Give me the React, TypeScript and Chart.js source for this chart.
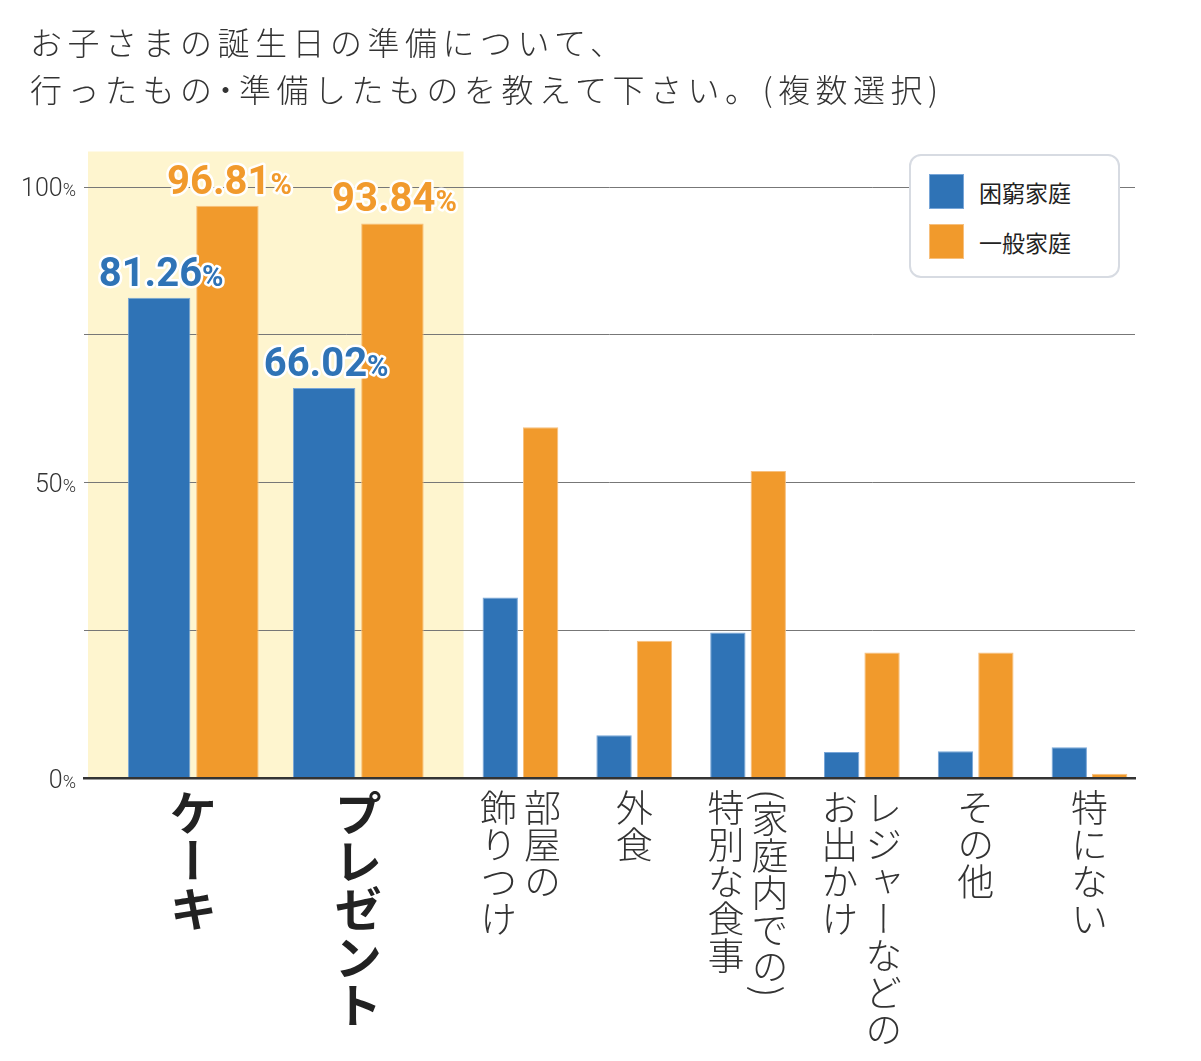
import { useEffect, useRef, useState } from 'react';
import { Chart, registerables, CategoryScale } from 'chart.js';

Chart.register(...registerables);

// ---- data ----
const categories: (string | string[])[] = [
  'ケーキ',
  'プレゼント',
  ['部屋の', '飾りつけ'],
  '外食',
  ['(家庭内での)', '特別な食事'],
  ['レジャーなどの', 'お出かけ'],
  'その他',
  '特にない',
];
const seriesNames = ['困窮家庭', '一般家庭'];
const poorValues = [81.26, 66.02, 30.6, 7.3, 24.7, 4.5, 4.6, 5.3];
const generalValues = [96.81, 93.84, 59.4, 23.3, 52.0, 21.3, 21.3, 0.8];
const highlightedCount = 2; // leading categories shown on the highlighted band
const yTickValues = [0, 25, 50, 75, 100];
const yLabelledTicks = [0, 50, 100];

// ---- styling ----
const COLORS = {
  poor: '#2f73b6',
  poorEdge: '#78a6d8',
  general: '#f19a2c',
  generalEdge: '#f7c07e',
  band: '#fef5cf',
  grid: '#777777',
  axis: '#333333',
  text: '#333333',
};

// Slot widths along the x axis, in units of a regular category slot.
const SLOTS = {
  lead: 0.035, // gap between the y axis and the highlighted band
  bandPad: 0.2, // padding inside the band on either side
  highlighted: 1.45, // slot width of a highlighted category
  regular: 1, // slot width of the remaining categories
  tail: -0.1, // the last slot runs slightly past the axis end
};
const BAND_TOP = 106; // the band reaches a little above the 100% line

const CJK = '"Noto Sans CJK JP", "Noto Sans CJK SC", sans-serif';

// Category scale whose slots may have different widths.
class SlotCategoryScale extends CategoryScale {
  static id = 'slotCategory';

  unitPx(): number {
    const n = this.getLabels().length;
    const total =
      SLOTS.lead +
      2 * SLOTS.bandPad +
      highlightedCount * SLOTS.highlighted +
      (n - highlightedCount) * SLOTS.regular +
      SLOTS.tail;
    return this.width / total;
  }

  slotStart(i: number): number {
    let u = SLOTS.lead + SLOTS.bandPad;
    for (let k = 0; k < i; k++) u += k < highlightedCount ? SLOTS.highlighted : SLOTS.regular;
    if (i >= highlightedCount) u += SLOTS.bandPad;
    return u;
  }

  getPixelForValue(value: any): number {
    if (typeof value !== 'number') value = this.parse(value);
    if (value === null || isNaN(value)) return NaN;
    const i = Math.round(value);
    const w = i < highlightedCount ? SLOTS.highlighted : SLOTS.regular;
    return this.left + (this.slotStart(i) + w / 2) * this.unitPx();
  }

  bandEdges(): [number, number] {
    const u = this.unitPx();
    return [this.left + SLOTS.lead * u, this.left + this.slotStart(highlightedCount) * u];
  }
}
Chart.register(SlotCategoryScale);

const onlyWhere = (values: number[], highlighted: boolean) =>
  values.map((v, i) => ((i < highlightedCount) === highlighted ? v : null));

const bandPlugin = {
  id: 'highlightBand',
  beforeDraw(chart: any) {
    const xs = chart.scales.x as SlotCategoryScale;
    const ys = chart.scales.y;
    const [x0, x1] = xs.bandEdges();
    const top = ys.getPixelForValue(BAND_TOP);
    const ctx = chart.ctx;
    ctx.save();
    ctx.fillStyle = COLORS.band;
    ctx.fillRect(x0, top, x1 - x0, chart.chartArea.bottom - top);
    ctx.restore();
  },
};

const yLabelPlugin = {
  id: 'percentTicks',
  afterDraw(chart: any) {
    const ctx = chart.ctx;
    const ys = chart.scales.y;
    const right = chart.chartArea.left - 8;
    ctx.save();
    ctx.fillStyle = COLORS.text;
    ctx.textBaseline = 'alphabetic';
    ctx.textAlign = 'right';
    for (const v of yLabelledTicks) {
      const y = ys.getPixelForValue(v) + 9;
      ctx.font = '300 18px Roboto';
      const wPct = ctx.measureText('%').width;
      ctx.fillText('%', right, y);
      ctx.font = '300 25px Roboto';
      ctx.fillText(String(v), right - wPct, y);
    }
    ctx.restore();
  },
};

const valueLabelPlugin = {
  id: 'valueLabels',
  afterDatasetsDraw(chart: any) {
    const ctx = chart.ctx;
    const groups: [number, number[], string][] = [
      [0, poorValues, COLORS.poor],
      [1, generalValues, COLORS.general],
    ];
    ctx.save();
    ctx.textBaseline = 'alphabetic';
    ctx.textAlign = 'left';
    ctx.lineJoin = 'round';
    for (const [di, values, color] of groups) {
      const meta = chart.getDatasetMeta(di);
      meta.data.forEach((bar: any, i: number) => {
        if (i >= highlightedCount) return;
        const num = values[i].toFixed(2);
        ctx.font = '700 40px Roboto';
        const wNum = ctx.measureText(num).width;
        ctx.font = '700 29px Roboto';
        const wPct = ctx.measureText('%').width;
        const x0 = bar.x - (wNum + wPct) / 2 + 2;
        const base = bar.y - 12;
        ctx.strokeStyle = '#ffffff';
        ctx.lineWidth = 5;
        ctx.fillStyle = color;
        ctx.font = '700 40px Roboto';
        ctx.strokeText(num, x0, base);
        ctx.font = '700 29px Roboto';
        ctx.strokeText('%', x0 + wNum, base);
        ctx.font = '700 40px Roboto';
        ctx.fillText(num, x0, base);
        ctx.font = '700 29px Roboto';
        ctx.fillText('%', x0 + wNum, base);
      });
    }
    ctx.restore();
  },
};

const W = 1185;
const H = 1045;

export default function App() {
  const canvasRef = useRef<HTMLCanvasElement | null>(null);
  const [xLabels, setXLabels] = useState<{ xs: number[]; top: number } | null>(null);

  useEffect(() => {
    if (!canvasRef.current) return;
    const big = { categoryPercentage: 1.2, barPercentage: 0.915 };
    const small = { categoryPercentage: 0.71, barPercentage: 0.875 };
    const chart = new Chart(canvasRef.current, {
      type: 'bar',
      data: {
        labels: categories as any,
        datasets: [
          {
            label: seriesNames[0],
            data: onlyWhere(poorValues, true),
            backgroundColor: COLORS.poor,
            borderColor: COLORS.poorEdge,
            ...big,
          },
          {
            label: seriesNames[1],
            data: onlyWhere(generalValues, true),
            backgroundColor: COLORS.general,
            borderColor: COLORS.generalEdge,
            ...big,
          },
          {
            label: seriesNames[0],
            data: onlyWhere(poorValues, false),
            backgroundColor: COLORS.poor,
            borderColor: COLORS.poorEdge,
            ...small,
          },
          {
            label: seriesNames[1],
            data: onlyWhere(generalValues, false),
            backgroundColor: COLORS.general,
            borderColor: COLORS.generalEdge,
            ...small,
          },
        ] as any,
      },
      options: {
        responsive: false,
        animation: false,
        events: [],
        datasets: { bar: { skipNull: true, borderWidth: 1 } as any },
        layout: { padding: { left: 76, right: 58, top: 179, bottom: 274.5 } },
        plugins: { legend: { display: false }, tooltip: { enabled: false } },
        scales: {
          x: {
            type: 'slotCategory' as any,
            ticks: { display: false },
            grid: { display: false, drawTicks: false },
            border: { display: true, color: COLORS.axis, width: 2.5, z: 1 },
          },
          y: {
            min: 0,
            max: 100,
            afterBuildTicks: (scale: any) => {
              scale.ticks = yTickValues.map((v) => ({ value: v }));
            },
            ticks: { display: false },
            grid: {
              drawTicks: false,
              lineWidth: 1,
              color: (c: any) => (c.tick && c.tick.value === 0 ? 'rgba(0,0,0,0)' : COLORS.grid),
            },
            border: { display: false },
          },
        },
      },
      plugins: [bandPlugin, yLabelPlugin, valueLabelPlugin],
    });
    const xs = chart.scales.x;
    setXLabels({
      xs: categories.map((_, i) => xs.getPixelForValue(i)),
      top: chart.chartArea.bottom + 10,
    });
    return () => chart.destroy();
  }, []);

  const narrowDot = <span style={{ margin: '0 -0.25em' }}>・</span>;

  return (
    <div style={{ position: 'relative', width: W, height: H, overflow: 'hidden', background: '#fff' }}>
      <canvas ref={canvasRef} width={W} height={H} style={{ position: 'absolute', left: 0, top: 0 }} />

      <div
        style={{
          position: 'absolute',
          left: 22,
          top: 10,
          fontFamily: CJK,
          fontWeight: 300,
          fontSize: 32,
          letterSpacing: '5.5px',
          lineHeight: '47px',
          color: COLORS.text,
          whiteSpace: 'nowrap',
        }}
      >
        <div>お子さまの誕生日の準備について、</div>
        <div>
          行ったもの{narrowDot}準備したものを教えて下さい。(複数選択)
        </div>
      </div>

      <div
        style={{
          position: 'absolute',
          left: 901,
          top: 146,
          width: 211,
          height: 124,
          boxSizing: 'border-box',
          border: '2px solid #d7dbe2',
          borderRadius: 12,
          background: '#fff',
        }}
      >
        {seriesNames.map((name, i) => (
          <div
            key={name}
            style={{
              position: 'absolute',
              left: 18,
              top: 18 + i * 50,
              height: 35,
              display: 'flex',
              alignItems: 'center',
            }}
          >
            <div
              style={{
                width: 35,
                height: 35,
                boxSizing: 'border-box',
                background: i === 0 ? COLORS.poor : COLORS.general,
                border: `1px solid ${i === 0 ? COLORS.poorEdge : COLORS.generalEdge}`,
              }}
            />
            <span
              style={{
                marginLeft: 15,
                fontFamily: CJK,
                fontSize: 23,
                color: '#222',
                whiteSpace: 'nowrap',
              }}
            >
              {name}
            </span>
          </div>
        ))}
      </div>

      {xLabels &&
        categories.map((label, i) => {
          const lines = Array.isArray(label) ? label : [label];
          const highlighted = i < highlightedCount;
          return (
            <div
              key={i}
              style={{
                position: 'absolute',
                left: xLabels.xs[i],
                top: xLabels.top,
                transform: 'translateX(-50%)',
                writingMode: 'vertical-rl',
                fontFamily: CJK,
                fontWeight: highlighted ? 700 : 300,
                fontSize: highlighted ? 48 : 37,
                lineHeight: highlighted ? '52px' : '44px',
                color: highlighted ? '#222' : COLORS.text,
                whiteSpace: 'nowrap',
              }}
            >
              {lines.map((line, k) => (
                <div key={k}>{line}</div>
              ))}
            </div>
          );
        })}
    </div>
  );
}
